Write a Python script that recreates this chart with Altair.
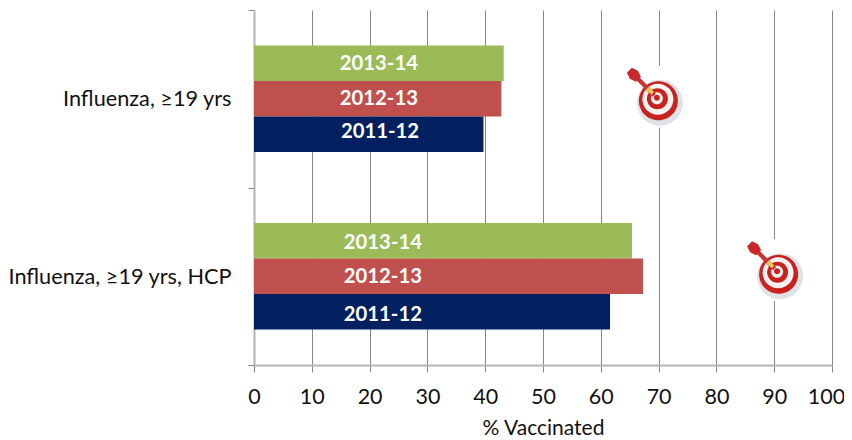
import altair as alt
import pandas as pd

categories = ["Influenza, ≥19 yrs", "Influenza, ≥19 yrs, HCP"]
seasons = ["2013-14", "2012-13", "2011-12"]
adult_values = [43.2, 42.8, 39.7]
hcp_values = [65.4, 67.3, 61.6]
season_colors = ["#9bbb59", "#c0504d", "#002060"]
target_values = [69.7, 90.5]

FONT = "Lato"

bars = pd.DataFrame(
    [{"cat": categories[0], "season": s, "v": v} for s, v in zip(seasons, adult_values)]
    + [{"cat": categories[1], "season": s, "v": v} for s, v in zip(seasons, hcp_values)]
)
# where each bar's label sits along the x axis
label_pos = [21.6, 21.6, 21.8, 22.3, 22.3, 22.3]
label_dy = [1, 0, -2, 2, 1, 3]
labels = bars.assign(v=label_pos)

x_scale = alt.Scale(domain=[0, 100], nice=False)
y_scale = alt.Scale(domain=categories, paddingInner=0, paddingOuter=0)
x = alt.X(
    "v:Q",
    scale=x_scale,
    title="% Vaccinated",
    axis=alt.Axis(
        values=list(range(0, 101, 10)),
        grid=True,
        gridColor="#868686",
        gridWidth=1,
        domainColor="#b4b4b4",
        domainWidth=2,
        tickColor="#868686",
        tickSize=7,
        labelFont=FONT,
        labelFontSize=21.5,
        labelColor="#111111",
        labelPadding=14,
        labelOffset={"condition": {"test": "datum.value == 100", "value": -6}, "value": 0},
        titleFont=FONT,
        titleFontSize=21,
        titleFontWeight="normal",
        titleColor="#111111",
        titlePadding=10,
        labelFlush=False,
    ),
)
y = alt.Y(
    "cat:N",
    scale=y_scale,
    sort=categories,
    title=None,
    axis=alt.Axis(
        domainColor="#b4b4b4",
        domainWidth=2,
        tickColor="#868686",
        tickSize=6,
        tickBand="extent",
        labelFont=FONT,
        labelFontSize=21.7,
        labelColor="#111111",
        labelPadding=17,
        labelLimit=300,
    ),
)
y_off = alt.YOffset(
    "season:N", sort=seasons, scale=alt.Scale(paddingInner=0.0, paddingOuter=1.0)
)

bar_layer = alt.Chart(bars).mark_bar().encode(
    x=x,
    y=y,
    yOffset=y_off,
    color=alt.Color(
        "season:N",
        scale=alt.Scale(domain=seasons, range=season_colors),
        legend=None,
    ),
)
text_layers = [
    alt.Chart(labels.iloc[[i]]).mark_text(
        font=FONT, fontSize=20.3, fontWeight="bold", color="white", dy=label_dy[i]
    ).encode(x=x, y=y, yOffset=y_off, text="season:N")
    for i in range(len(labels))
]


def ring(cx, cy, r):
    return f"M{cx - r},{cy}A{r},{r},0,1,1,{cx + r},{cy}A{r},{r},0,1,1,{cx - r},{cy}Z"


def poly(points):
    return "M" + "L".join(f"{a},{b}" for a, b in points) + "Z"


def icon_parts(dy):
    return [
        (poly([(-34, -32 + dy), (28, -32 + dy), (28, 30 + dy), (-34, 30 + dy)]), "#ffffff"),
        (ring(3, 5 + dy, 23), "#dfe3e8"),
        (ring(1.5, 3 + dy, 19.5), "#c9211e"),
        (ring(1, 1.5 + dy, 15.5), "#f7f2f0"),
        (ring(0.5, 1 + dy, 10.5), "#c9211e"),
        (ring(0, 0.5 + dy, 6), "#f7f2f0"),
        (ring(0, dy, 3), "#c9211e"),
        (poly([(-1, -4 + dy), (-20, -23 + dy), (-23, -20 + dy), (-4, -1 + dy)]), "#c9342e"),
        (poly([(-8, -11 + dy), (-3, -6 + dy), (-5, -3 + dy), (-11, -8 + dy)]), "#e8c95a"),
        (poly([(-30, -25 + dy), (-25, -30 + dy), (-19, -27 + dy), (-16, -21 + dy), (-21, -16 + dy), (-27, -19 + dy)]), "#c8282a"),
    ]


icon_layers = []
for cat, val, shift in zip(categories, target_values, [-1, -5]):
    row = pd.DataFrame({"cat": [cat], "v": [val]})
    for path, color in icon_parts(shift):
        icon_layers.append(
            alt.Chart(row).mark_point(
                shape=path, size=4, filled=True, fill=color, opacity=1, strokeWidth=0
            ).encode(x=x, y=y)
        )

chart = alt.layer(bar_layer, *text_layers, *icon_layers).properties(
    width=578,
    height=355,
    autosize=alt.AutoSizeParams(type="none"),
    padding={"left": 246, "top": 2, "right": 12, "bottom": 75},
).configure_view(stroke=None)

chart.save("out.html", embed_options={"renderer": "svg", "actions": False})
